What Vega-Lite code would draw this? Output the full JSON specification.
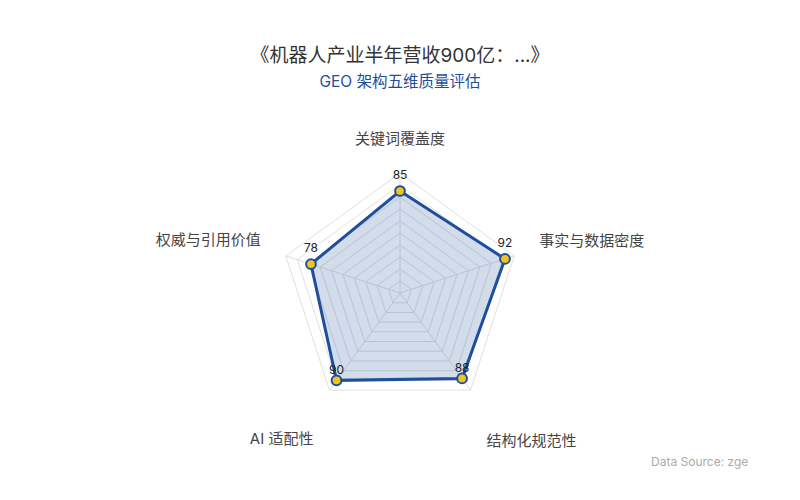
{
  "$schema": "https://vega.github.io/schema/vega-lite/v6.json",
  "width": 800,
  "height": 400,
  "autosize": "none",
  "padding": {"top": 100, "left": 0, "right": 0, "bottom": 0},
  "background": "white",
  "title": {
    "text": "《机器人产业半年营收900亿：...》",
    "subtitle": "GEO 架构五维质量评估",
    "font": "Inter, Noto Sans CJK SC",
    "fontSize": 19,
    "fontWeight": "normal",
    "color": "#333333",
    "subtitleFont": "Inter, Noto Sans CJK SC",
    "subtitleFontSize": 15.5,
    "subtitleColor": "#1f4e9c",
    "subtitlePadding": 9,
    "anchor": "middle",
    "frame": "group",
    "offset": 10
  },
  "config": {"view": {"stroke": null}},
  "datasets": {
    "scores": [
      {"axis": "关键词覆盖度", "k": 0, "value": 85},
      {"axis": "事实与数据密度", "k": 1, "value": 92},
      {"axis": "结构化规范性", "k": 2, "value": 88},
      {"axis": "AI 适配性", "k": 3, "value": 90},
      {"axis": "权威与引用价值", "k": 4, "value": 78}
    ],
    "rings": [
      {"level": 10, "k": [0, 1, 2, 3, 4]},
      {"level": 20, "k": [0, 1, 2, 3, 4]},
      {"level": 30, "k": [0, 1, 2, 3, 4]},
      {"level": 40, "k": [0, 1, 2, 3, 4]},
      {"level": 50, "k": [0, 1, 2, 3, 4]},
      {"level": 60, "k": [0, 1, 2, 3, 4]},
      {"level": 70, "k": [0, 1, 2, 3, 4]},
      {"level": 80, "k": [0, 1, 2, 3, 4]},
      {"level": 90, "k": [0, 1, 2, 3, 4]},
      {"level": 100, "k": [0, 1, 2, 3, 4]}
    ],
    "source": [{"note": "Data Source: zge"}]
  },
  "layer": [
    {
      "data": {"name": "rings"},
      "transform": [
        {"flatten": ["k"]},
        {"calculate": "PI / 2 - datum.k * 2 * PI / 5", "as": "a"},
        {"calculate": "datum.level * cos(datum.a)", "as": "x"},
        {"calculate": "datum.level * sin(datum.a)", "as": "y"}
      ],
      "mark": {"type": "line", "interpolate": "linear-closed", "stroke": "#e0e0e0", "strokeWidth": 1},
      "encoding": {
        "x": {"field": "x", "type": "quantitative", "scale": {"domain": [-333.333, 333.333], "nice": false, "zero": false}, "axis": null},
        "y": {"field": "y", "type": "quantitative", "scale": {"domain": [-172.5, 160.833], "nice": false, "zero": false}, "axis": null},
        "detail": {"field": "level", "type": "nominal"},
        "order": {"field": "k", "type": "quantitative"}
      }
    },
    {
      "data": {"name": "scores"},
      "transform": [
        {"calculate": "PI / 2 - datum.k * 2 * PI / 5", "as": "a"},
        {"calculate": "100 * cos(datum.a)", "as": "ox"},
        {"calculate": "100 * sin(datum.a)", "as": "oy"},
        {"calculate": "datum.value * cos(datum.a)", "as": "x"},
        {"calculate": "datum.value * sin(datum.a)", "as": "y"}
      ],
      "layer": [
        {
          "mark": {"type": "rule", "stroke": "#e0e0e0", "strokeWidth": 1},
          "encoding": {
            "x": {"field": "ox", "type": "quantitative", "scale": {"domain": [-333.333, 333.333], "nice": false, "zero": false}, "axis": null},
            "y": {"field": "oy", "type": "quantitative", "scale": {"domain": [-172.5, 160.833], "nice": false, "zero": false}, "axis": null},
            "x2": {"datum": 0},
            "y2": {"datum": 0}
          }
        },
        {
          "mark": {"type": "line", "interpolate": "linear-closed", "fill": "#1f4e9c", "fillOpacity": 0.2, "stroke": "#1f4e9c", "strokeWidth": 3, "strokeJoin": "miter"},
          "encoding": {
            "x": {"field": "x", "type": "quantitative"},
            "y": {"field": "y", "type": "quantitative"},
            "order": {"field": "k", "type": "quantitative"}
          }
        },
        {
          "mark": {"type": "point", "filled": true, "fill": "#f2c418", "stroke": "#1f4e9c", "strokeWidth": 2, "size": 95, "opacity": 1},
          "encoding": {
            "x": {"field": "x", "type": "quantitative"},
            "y": {"field": "y", "type": "quantitative"}
          }
        },
        {
          "transform": [{"filter": "datum.k <= 1 || datum.k == 4"}],
          "mark": {"type": "text", "font": "Inter, Noto Sans CJK SC", "fontSize": 12, "color": "#222222", "dy": -16},
          "encoding": {
            "x": {"field": "x", "type": "quantitative"},
            "y": {"field": "y", "type": "quantitative"},
            "text": {"field": "value", "type": "quantitative"}
          }
        },
        {
          "transform": [{"filter": "datum.k == 2 || datum.k == 3"}],
          "mark": {"type": "text", "font": "Inter, Noto Sans CJK SC", "fontSize": 12, "color": "#222222", "dy": -10},
          "encoding": {
            "x": {"field": "x", "type": "quantitative"},
            "y": {"field": "y", "type": "quantitative"},
            "text": {"field": "value", "type": "quantitative"}
          }
        },
        {
          "transform": [{"filter": "datum.k == 0"}],
          "mark": {"type": "text", "font": "Inter, Noto Sans CJK SC", "fontSize": 15, "color": "#444444", "align": "center", "baseline": "middle", "dy": -34},
          "encoding": {
            "x": {"field": "ox", "type": "quantitative"},
            "y": {"field": "oy", "type": "quantitative"},
            "text": {"field": "axis", "type": "nominal"}
          }
        },
        {
          "transform": [{"filter": "datum.k == 1"}],
          "mark": {"type": "text", "font": "Inter, Noto Sans CJK SC", "fontSize": 15, "color": "#444444", "align": "left", "baseline": "middle", "dx": 25, "dy": -15},
          "encoding": {
            "x": {"field": "ox", "type": "quantitative"},
            "y": {"field": "oy", "type": "quantitative"},
            "text": {"field": "axis", "type": "nominal"}
          }
        },
        {
          "transform": [{"filter": "datum.k == 2"}],
          "mark": {"type": "text", "font": "Inter, Noto Sans CJK SC", "fontSize": 15, "color": "#444444", "align": "left", "baseline": "middle", "dx": 16, "dy": 51},
          "encoding": {
            "x": {"field": "ox", "type": "quantitative"},
            "y": {"field": "oy", "type": "quantitative"},
            "text": {"field": "axis", "type": "nominal"}
          }
        },
        {
          "transform": [{"filter": "datum.k == 3"}],
          "mark": {"type": "text", "font": "Inter, Noto Sans CJK SC", "fontSize": 15, "color": "#444444", "align": "right", "baseline": "middle", "dx": -16, "dy": 49},
          "encoding": {
            "x": {"field": "ox", "type": "quantitative"},
            "y": {"field": "oy", "type": "quantitative"},
            "text": {"field": "axis", "type": "nominal"}
          }
        },
        {
          "transform": [{"filter": "datum.k == 4"}],
          "mark": {"type": "text", "font": "Inter, Noto Sans CJK SC", "fontSize": 15, "color": "#444444", "align": "right", "baseline": "middle", "dx": -25, "dy": -16},
          "encoding": {
            "x": {"field": "ox", "type": "quantitative"},
            "y": {"field": "oy", "type": "quantitative"},
            "text": {"field": "axis", "type": "nominal"}
          }
        }
      ]
    },
    {
      "data": {"name": "source"},
      "mark": {"type": "text", "font": "Inter, Noto Sans CJK SC", "fontSize": 12, "color": "#aaaaaa", "align": "left", "baseline": "middle"},
      "encoding": {
        "x": {"datum": 209.2, "type": "quantitative"},
        "y": {"datum": -140.8, "type": "quantitative"},
        "text": {"field": "note", "type": "nominal"}
      }
    }
  ]
}
